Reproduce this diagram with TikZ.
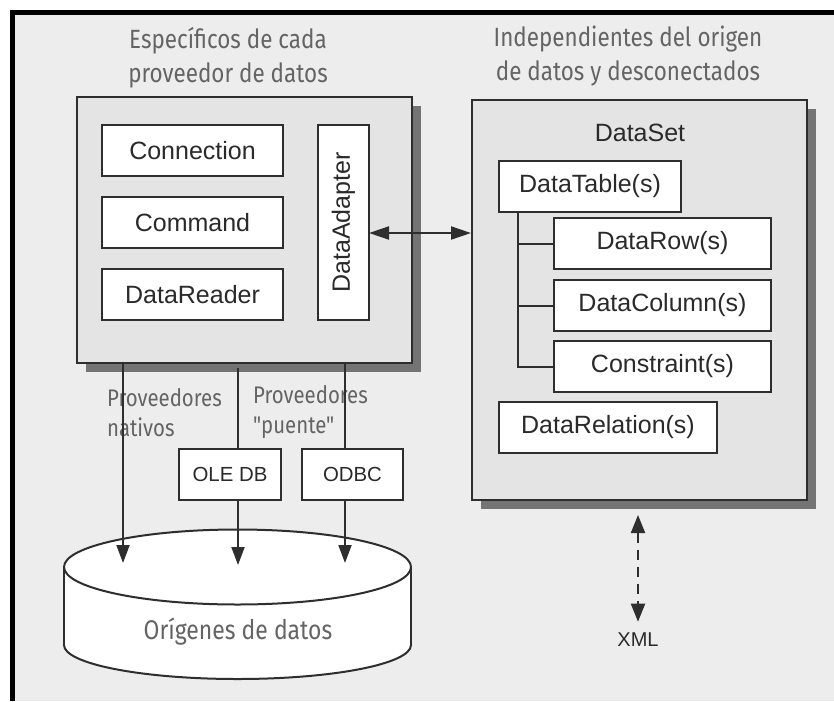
\documentclass[tikz,border=0pt]{standalone}
\usepackage{fontspec}
\setmainfont{Liberation Sans}
\newfontfamily\condfont[FakeStretch=0.85]{Fira Sans}
\usetikzlibrary{arrows.meta,shadows}
\definecolor{bgc}{HTML}{EDEDED}
\definecolor{panelc}{HTML}{E4E4E4}
\definecolor{shadowc}{HTML}{747474}
\definecolor{linec}{HTML}{2E2E2E}
\definecolor{graytext}{HTML}{646464}
\definecolor{boxtext}{HTML}{2A2A2A}
\begin{document}
\begin{tikzpicture}[x=0.5pt,y=-0.5pt,
  box/.style={draw=linec, line width=1pt, fill=white, inner sep=0pt,
    minimum height=25.5pt, font=\fontsize{12.5}{14}\selectfont, text=boxtext},
  smallbox/.style={box, font=\fontsize{10.2}{12}\selectfont},
  panel/.style={draw=linec, line width=1pt, fill=panelc, inner sep=0pt,
    general shadow={fill=shadowc, shadow xshift=4.3pt, shadow yshift=-4.3pt}},
  cond/.style={font=\condfont\fontsize{13.2}{16.8}\selectfont, text=graytext, align=center},
  condl/.style={font=\condfont\fontsize{12}{15}\selectfont, text=graytext, align=left},
  plain/.style={draw=linec, line width=1pt},
  arr/.style={plain, -{Triangle[length=9pt,width=6.5pt]}},
  darr/.style={plain, {Triangle[length=10pt,width=6.5pt]}-{Triangle[length=10pt,width=6.5pt]}},
  xarr/.style={plain, dash pattern=on 5pt off 3.5pt,
    {Triangle[length=9pt,width=7pt]}-{Triangle[length=9pt,width=7pt]}},
]
\useasboundingbox (0,0) rectangle (834,701);
\fill[white] (0,0) rectangle (834,701);
\fill[bgc] (12,12) rectangle (834,701);
\fill[black] (10,10) rectangle (834,15);
\fill[black] (10,10) rectangle (15,701);

% titles
\node[cond] (t1) at (228,58) {Específicos de cada\\proveedor de datos};
\node[cond] (t2) at (628,56) {Independientes del origen\\de datos y desconectados};

% provider panel
\node[panel, minimum width=167.5pt, minimum height=133pt] (prov) at (244.5,230) {};
\node[box, minimum width=90.5pt] (conn) at (192.5,150.5) {Connection};
\node[box, minimum width=90.5pt] (cmd) at (192.5,222.5) {Command};
\node[box, minimum width=90.5pt] (rdr) at (192.5,294.5) {DataReader};
\node[box, minimum width=25.5pt, minimum height=97.5pt] (adp) at (343.5,222.5) {\rotatebox{90}{DataAdapter}};

% dataset panel
\node[panel, minimum width=167.5pt, minimum height=200pt] (ds) at (639.5,300) {};
\node[font=\fontsize{12.5}{14}\selectfont, text=boxtext] (dsl) at (640,133) {DataSet};
\node[box, minimum width=91pt] (dt) at (590,186.5) {DataTable(s)};
\node[box, minimum width=108.5pt] (dr) at (662.5,243.5) {DataRow(s)};
\node[box, minimum width=108.5pt] (dc) at (662.5,305.5) {DataColumn(s)};
\node[box, minimum width=108.5pt] (cs) at (662.5,366.5) {Constraint(s)};
\node[box, minimum width=109pt] (rel) at (608,427.5) {DataRelation(s)};
\coordinate (trk) at (518,212);
\draw[plain] (trk) |- (cs.west);
\draw[plain] (trk |- dr.west) -- (dr.west);
\draw[plain] (trk |- dc.west) -- (dc.west);

% adapter <-> dataset
\coordinate (ad) at (369,233);
\draw[darr] (ad) -- (ad -| ds.west);

% provider labels
\node[condl, anchor=west] (pn) at (100,413) {Proveedores\\nativos};
\node[condl, anchor=west] (pp) at (246,412) {Proveedores\\"puente"};

% bridge boxes
\node[smallbox, minimum width=51pt] (ole) at (230,474.5) {OLE DB};
\node[smallbox, minimum width=50.5pt] (odbc) at (352.5,474.5) {ODBC};

% data sources cylinder
\draw[draw=linec, line width=1pt, fill=white] (237.5,645) ellipse [x radius=86.75pt, y radius=17pt];
\fill[white] (64,567) rectangle (411,645);
\draw[plain] (64,567) -- (64,645);
\draw[plain] (411,567) -- (411,645);
\draw[draw=linec, line width=1pt, fill=white] (237.5,567) ellipse [x radius=86.75pt, y radius=18.75pt];
\node[cond, font=\condfont\fontsize{13.5}{16}\selectfont] (src) at (238,632) {Orígenes de datos};

% provider arrows
\coordinate (c1) at (123,563);
\coordinate (c2top) at (238,368);
\coordinate (c2) at (238,565);
\coordinate (c3) at (345,563);
\draw[arr] (prov.south -| c1) -- (c1);
\draw[plain] (c2top) -- (c2top |- ole.north);
\draw[arr] (c2top |- ole.south) -- (c2);
\draw[plain] (prov.south -| c3) -- (c3 |- odbc.north);
\draw[arr] (c3 |- odbc.south) -- (c3);

% XML
\node[font=\fontsize{10}{12}\selectfont, text=boxtext, inner sep=0pt] (xml) at (638,640) {XML};
\coordinate (xtop) at (638,515);
\draw[xarr] (xtop) -- ([yshift=5.5pt]xml.north);
\end{tikzpicture}
\end{document}
